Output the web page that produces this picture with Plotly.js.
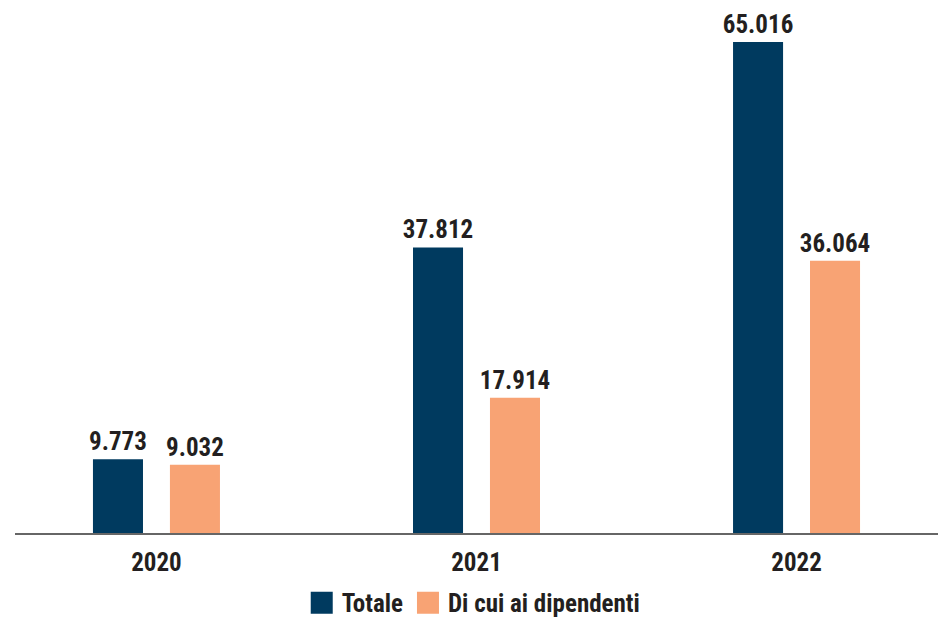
<!DOCTYPE html>
<html>
<head>
<meta charset="utf-8">
<script src="https://cdn.plot.ly/plotly-3.0.1.min.js"></script>
<style>html,body{margin:0;padding:0;background:#fff;}#chart{width:938px;height:619px;}</style>
</head>
<body>
<div id="chart"></div>
<script>
const years = ["2020", "2021", "2022"];
const totale = [9773, 37812, 65016];
const dipendenti = [9032, 17914, 36064];
const seriesNames = ["Totale", "Di cui ai dipendenti"];

const FONT = '"Liberation Sans Narrow", "Roboto Condensed", Roboto, sans-serif';
const TXT = '#231f20';

const traces = [
  {
    type: 'bar', x: years, y: totale, name: seriesNames[0],
    marker: {color: '#003a5f'},
    texttemplate: '<b>%{y:,}</b>', textposition: 'outside', cliponaxis: false,
    constraintext: 'none',
    textfont: {family: FONT, size: 25, color: TXT},
    hoverinfo: 'skip'
  },
  {
    type: 'bar', x: years, y: dipendenti, name: seriesNames[1],
    marker: {color: '#f8a374'},
    texttemplate: '<b>%{y:,}</b>', textposition: 'outside', cliponaxis: false,
    constraintext: 'none',
    textfont: {family: FONT, size: 25, color: TXT},
    hoverinfo: 'skip'
  }
];

const layout = {
  width: 938, height: 619,
  margin: {l: 15, r: 0, t: 10, b: 86},
  paper_bgcolor: '#fff', plot_bgcolor: '#fff',
  separators: ',.',
  barmode: 'group', bargap: 0.519, bargroupgap: 0.35,
  font: {family: FONT, color: TXT},
  xaxis: {
    type: 'category', range: [-0.442, 2.442],
    showline: true, linecolor: '#666', linewidth: 2,
    ticks: '', showgrid: false, zeroline: false,
    tickfont: {family: FONT, size: 25, color: TXT, weight: 'bold'},
    ticklabelstandoff: 6
  },
  yaxis: {
    range: [0, 69253], visible: false, showgrid: false, zeroline: false
  },
  showlegend: true,
  legend: {
    orientation: 'h', x: 0.497, xanchor: 'center',
    yref: 'container', y: 0.026, yanchor: 'middle',
    font: {family: FONT, size: 25, color: TXT, weight: 'bold'},
    itemwidth: 30, traceorder: 'normal'
  }
};

Plotly.newPlot('chart', traces, layout, {displayModeBar: false, staticPlot: true}).then(function (gd) {
  gd.querySelectorAll('.legend .legendpoints path').forEach(function (p) {
    p.setAttribute('d', 'M11,11H-11V-11H11Z');
  });
});
</script>
</body>
</html>
